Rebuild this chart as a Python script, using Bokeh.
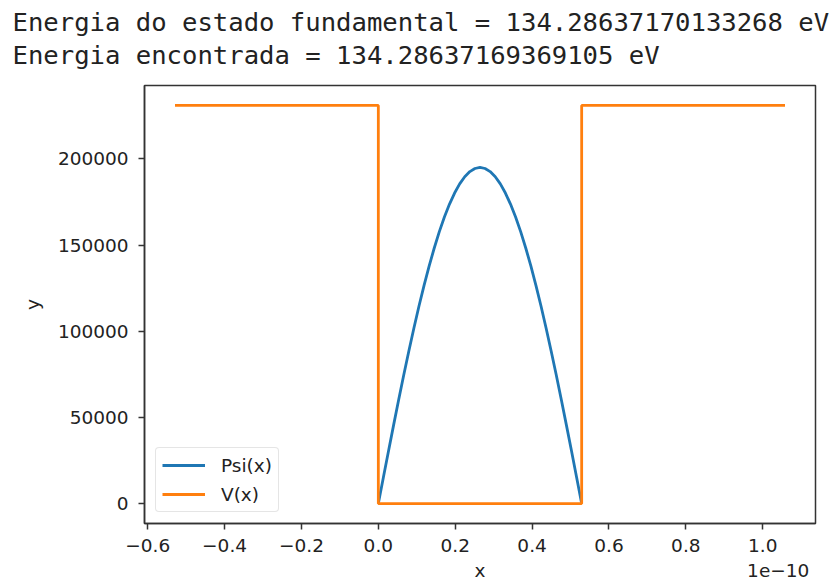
from bokeh.plotting import figure
from bokeh.models import (Range1d, FixedTicker, CustomJSTickFormatter,
                          LinearAxis, Title, Legend, LegendItem)
from bokeh.embed import file_html
from bokeh.resources import INLINE

# Ground-state wavefunction of the infinite well, x in units of 1e-10 m
psi_x = [0.0, 0.0132, 0.0265, 0.0397, 0.0529, 0.0661, 0.0794, 0.0926, 0.1058,
         0.1190, 0.1323, 0.1455, 0.1587, 0.1719, 0.1852, 0.1984, 0.2116,
         0.2248, 0.2381, 0.2513, 0.2645, 0.2777, 0.2909, 0.3042, 0.3174,
         0.3306, 0.3438, 0.3571, 0.3703, 0.3835, 0.3968, 0.4100, 0.4232,
         0.4364, 0.4496, 0.4629, 0.4761, 0.4893, 0.5026, 0.5158, 0.529]
psi_y = [0, 15300, 30500, 45520, 60260, 74620, 88530, 101890, 114620, 126640,
         137890, 148280, 157760, 166260, 173750, 180160, 185460, 189610,
         192600, 194400, 195000, 194400, 192600, 189610, 185460, 180160,
         173750, 166260, 157760, 148280, 137890, 126640, 114620, 101890,
         88530, 74620, 60260, 45520, 30500, 15300, 0]

# Potential: high walls on both sides, zero inside the well
v_x = [-0.529, 0.0, 0.0, 0.529, 0.529, 1.058]
v_y = [231000, 231000, 0, 0, 231000, 231000]

x_ticks = [-0.6, -0.4, -0.2, 0.0, 0.2, 0.4, 0.6, 0.8, 1.0]
x_tick_labels = ["\u22120.6", "\u22120.4", "\u22120.2", "0.0", "0.2", "0.4",
                 "0.6", "0.8", "1.0"]
y_ticks = [0, 50000, 100000, 150000, 200000]
y_tick_labels = ["0", "50000", "100000", "150000", "200000"]
x_axis_name = "x"
y_axis_name = "y"
x_offset_text = "1e\u221210"

header_lines = [
    "Energia do estado fundamental = 134.28637170133268 eV",
    "Energia encontrada = 134.28637169369105 eV",
]

BLUE = "#1f77b4"
ORANGE = "#ff7f0e"
INK = "#222222"
SPINE = "#333333"
FONT = "DejaVu Sans"
MONO = "DejaVu Sans Mono"
FS = "18.5px"

# axis limits with 5% margins around the data
all_x = psi_x + v_x
all_y = psi_y + v_y
xlo, xhi = min(all_x), max(all_x)
ylo, yhi = min(all_y), max(all_y)
xpad = 0.05 * (xhi - xlo)
ypad = 0.05 * (yhi - ylo)
x_start, x_end = xlo - xpad, xhi + xpad

p = figure(width=832, height=583, output_backend="svg", toolbar_location=None,
           x_range=Range1d(x_start, x_end),
           y_range=Range1d(ylo - ypad, yhi + ypad),
           min_border_left=144, min_border_right=17,
           min_border_top=85, min_border_bottom=60)
p.background_fill_color = "white"
p.border_fill_color = "white"
p.grid.visible = False
p.outline_line_color = SPINE
p.outline_line_width = 1.5

# header printed above the axes; the panel added first sits next to the frame
for line, gap in ((header_lines[1], 31), (header_lines[0], -29)):
    p.add_layout(Title(text=line, align="left", offset=12 - 144,
                       text_font=MONO, text_font_size="25.6px",
                       text_font_style="normal", text_color=INK,
                       standoff=gap), "above")


def tick_formatter(values, texts):
    return CustomJSTickFormatter(
        args=dict(tick_values=values, tick_texts=texts),
        code="""
        const i = tick_values.findIndex(t => Math.abs(t - tick) < 1e-9);
        return i >= 0 ? tick_texts[i] : '';
        """)


def style_axis(ax):
    ax.minor_tick_in = 0
    ax.minor_tick_out = 0
    ax.major_tick_in = 0
    ax.major_tick_out = 6
    ax.major_tick_line_width = 1.5
    ax.major_tick_line_color = SPINE
    ax.axis_line_width = 1.5
    ax.axis_line_color = SPINE
    ax.major_label_text_font = FONT
    ax.major_label_text_font_size = FS
    ax.major_label_text_color = INK
    ax.axis_label_text_font = FONT
    ax.axis_label_text_font_size = FS
    ax.axis_label_text_font_style = "normal"
    ax.axis_label_text_color = INK


xaxis = p.xaxis[0]
style_axis(xaxis)
xaxis.ticker = FixedTicker(ticks=x_ticks)
xaxis.formatter = tick_formatter(x_ticks, x_tick_labels)
xaxis.major_label_standoff = 9

yaxis = p.yaxis[0]
style_axis(yaxis)
yaxis.ticker = FixedTicker(ticks=y_ticks)
yaxis.formatter = tick_formatter(y_ticks, y_tick_labels)
yaxis.major_label_standoff = 10
yaxis.axis_label = y_axis_name
yaxis.axis_label_standoff = 12

# second row under the x axis: the axis name in the middle and the
# scale offset text at the right end, on one line
name_pos = [(x_start + x_end) / 2, x_end - 0.097]
name_row = LinearAxis(ticker=FixedTicker(ticks=name_pos),
                      formatter=tick_formatter(name_pos,
                                               [x_axis_name, x_offset_text]))
style_axis(name_row)
name_row.axis_line_color = None
name_row.major_tick_line_color = None
name_row.major_tick_out = 0
name_row.major_label_standoff = 5
p.add_layout(name_row, "below")

r_psi = p.line(psi_x, psi_y, line_color=BLUE, line_width=2.8)
r_v = p.line(v_x, v_y, line_color=ORANGE, line_width=2.8)

legend = Legend(items=[LegendItem(label="Psi(x)", renderers=[r_psi]),
                       LegendItem(label="V(x)", renderers=[r_v])],
                location="bottom_left", margin=11, padding=6, spacing=7,
                glyph_width=43, glyph_height=22, label_height=22,
                label_standoff=16, label_text_font=FONT,
                label_text_font_size=FS, label_text_color=INK,
                border_line_color="#cccccc", border_line_width=1,
                border_radius=4, background_fill_alpha=0.8)
p.add_layout(legend)

open("out.html", "w").write(file_html(p, INLINE))
